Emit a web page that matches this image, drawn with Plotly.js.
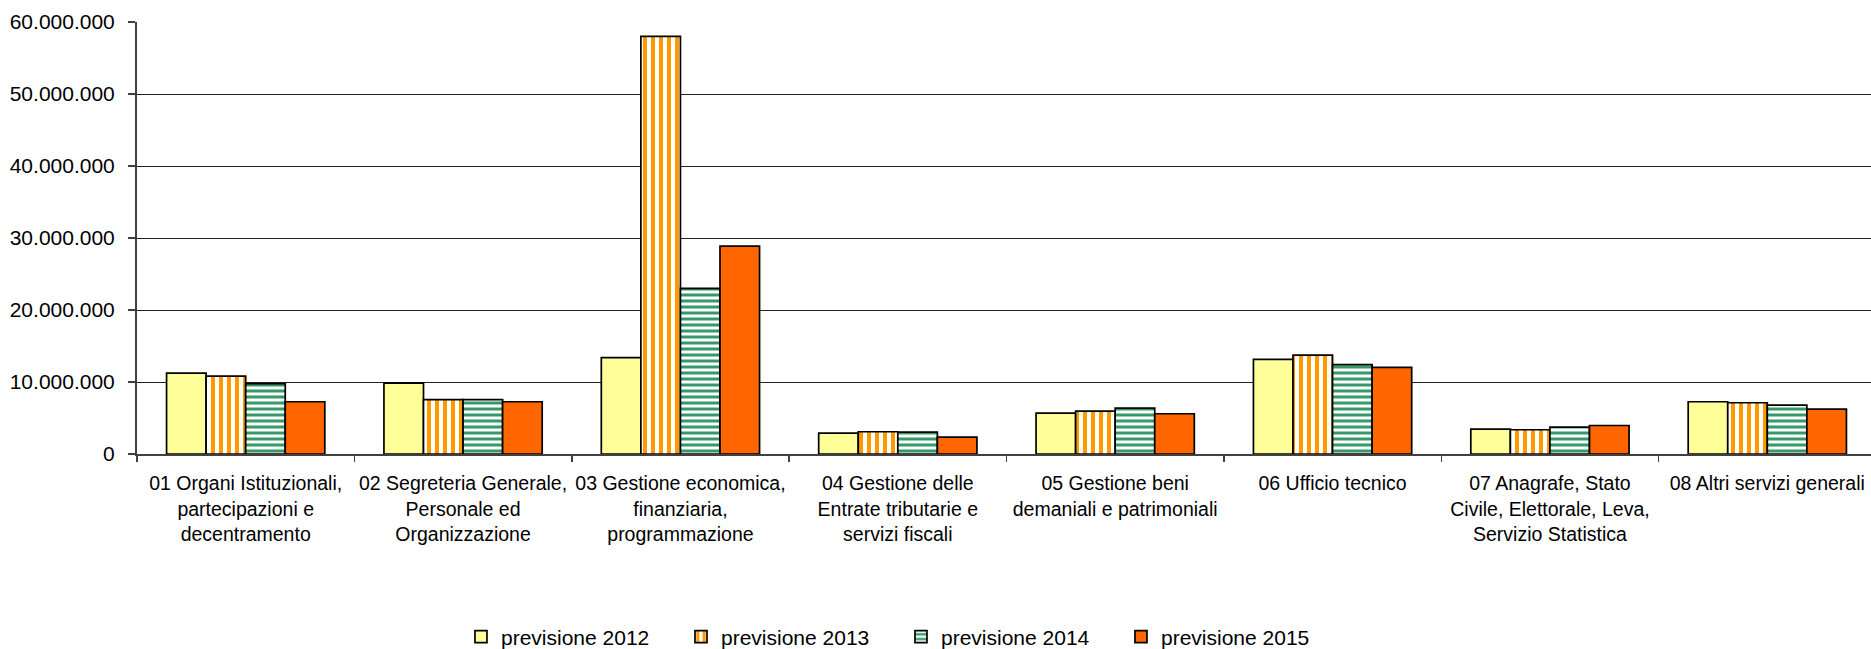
<!DOCTYPE html>
<html>
<head>
<meta charset="utf-8">
<script src="https://cdn.plot.ly/plotly-3.0.1.min.js"></script>
<style>
  html, body { margin: 0; padding: 0; overflow: hidden; background: #fff; }
  #chart { width: 1876px; height: 649px; }
</style>
</head>
<body>
<div id="chart"></div>
<script>
const categories = [
  "01 Organi Istituzionali, partecipazioni e decentramento",
  "02 Segreteria Generale, Personale ed Organizzazione",
  "03 Gestione economica, finanziaria, programmazione",
  "04 Gestione delle Entrate tributarie e servizi fiscali",
  "05 Gestione beni demaniali e patrimoniali",
  "06 Ufficio tecnico",
  "07 Anagrafe, Stato Civile, Elettorale, Leva, Servizio Statistica",
  "08 Altri servizi generali"
];
const categoryLabels = [
  "01 Organi Istituzionali,<br>partecipazioni e<br>decentramento",
  "02 Segreteria Generale,<br>Personale ed<br>Organizzazione",
  "03 Gestione economica,<br>finanziaria,<br>programmazione",
  "04 Gestione delle<br>Entrate tributarie e<br>servizi fiscali",
  "05 Gestione beni<br>demaniali e patrimoniali",
  "06 Ufficio tecnico",
  "07 Anagrafe, Stato<br>Civile, Elettorale, Leva,<br>Servizio Statistica",
  "08 Altri servizi generali"
];
const seriesNames = ["previsione 2012", "previsione 2013", "previsione 2014", "previsione 2015"];
const previsione2012 = [11240000, 9850000, 13380000, 2900000, 5670000, 13140000, 3450000, 7260000];
const previsione2013 = [10820000, 7560000, 58000000, 3090000, 5950000, 13740000, 3370000, 7120000];
const previsione2014 = [9760000, 7540000, 23000000, 3030000, 6370000, 12400000, 3730000, 6790000];
const previsione2015 = [7260000, 7260000, 28860000, 2340000, 5590000, 12030000, 3960000, 6230000];
const yTickVals = [0, 10000000, 20000000, 30000000, 40000000, 50000000, 60000000];

const FONT = 'Arial, "Liberation Sans", sans-serif';
const outline = { color: '#000000', width: 1.7 };

const traces = [
  {
    type: 'bar', name: seriesNames[0], x: categories, y: previsione2012,
    marker: { color: '#FFFF99', line: outline }
  },
  {
    type: 'bar', name: seriesNames[1], x: categories, y: previsione2013,
    marker: { color: '#FF9900', line: outline,
      pattern: { shape: '|', fgcolor: '#FF9900', bgcolor: '#FFFFFF', size: 8, solidity: 0.5, fillmode: 'replace' } }
  },
  {
    type: 'bar', name: seriesNames[2], x: categories, y: previsione2014,
    marker: { color: '#339966', line: outline,
      pattern: { shape: '-', fgcolor: '#339966', bgcolor: '#FFFFFF', size: 6, solidity: 0.5, fillmode: 'replace' } }
  },
  {
    type: 'bar', name: seriesNames[3], x: categories, y: previsione2015,
    marker: { color: '#FF6600', line: outline }
  }
];

const layout = {
  width: 1876, height: 649,
  margin: { l: 137, r: 0, t: 22, b: 195, pad: 0, autoexpand: false },
  paper_bgcolor: '#FFFFFF', plot_bgcolor: '#FFFFFF',
  separators: ',.',
  font: { family: FONT, size: 21, color: '#000000' },
  barmode: 'group', bargap: 0.272, bargroupgap: 0,
  showlegend: true,
  legend: {
    orientation: 'h', xref: 'paper', yref: 'paper',
    x: 0.1863, xanchor: 'left', y: -0.4236, yanchor: 'middle',
    font: { family: FONT, size: 21, color: '#000000' },
    entrywidth: 175, entrywidthmode: 'pixels',
    bgcolor: 'rgba(0,0,0,0)', borderwidth: 0,
    traceorder: 'normal'
  },
  xaxis: {
    type: 'category',
    tickmode: 'array', tickvals: categories, ticktext: categoryLabels,
    tickson: 'boundaries', ticks: 'outside', ticklen: 6, tickcolor: '#404040', tickwidth: 1.5,
    ticklabelstandoff: 11,
    showline: true, linecolor: '#404040', linewidth: 2,
    showgrid: false, zeroline: false,
    tickfont: { family: FONT, size: 19.5, color: '#000000' },
    tickangle: 0, automargin: false
  },
  yaxis: {
    range: [0, 60000000], tickmode: 'array', tickvals: yTickVals,
    tickformat: ',d',
    ticks: 'outside', ticklen: 7, tickcolor: '#404040', tickwidth: 1.5,
    ticklabelstandoff: 9,
    showline: true, linecolor: '#404040', linewidth: 2,
    showgrid: true, gridcolor: '#222222', gridwidth: 1,
    zeroline: false,
    tickfont: { family: FONT, size: 21, color: '#000000' },
    automargin: false
  }
};

Plotly.newPlot('chart', traces, layout, { displayModeBar: false, staticPlot: true });
</script>
</body>
</html>
